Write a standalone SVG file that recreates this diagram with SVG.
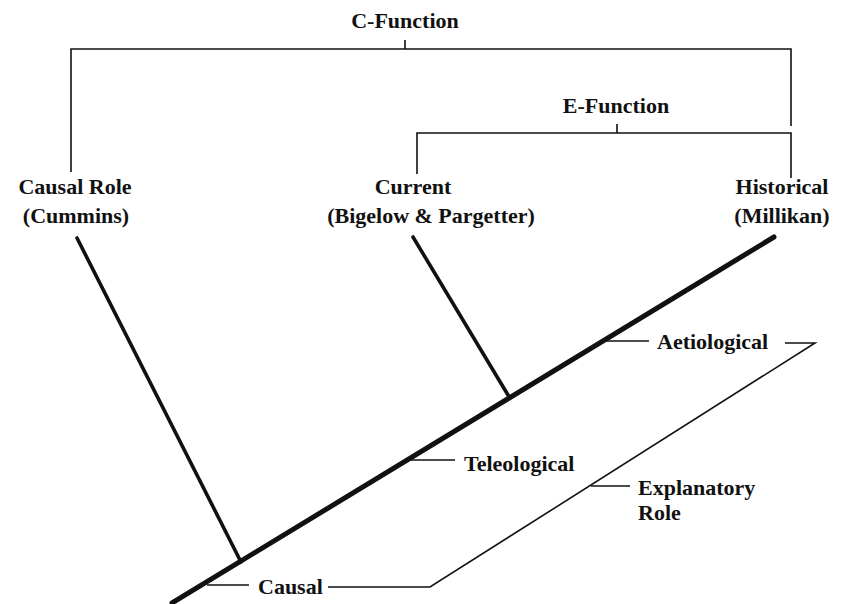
<svg xmlns="http://www.w3.org/2000/svg" width="844" height="604" viewBox="0 0 844 604">
<style>
  text { font-family: "Liberation Serif", "Times New Roman", serif; font-weight: bold; font-size: 22px; fill: #111; }
  .mid { text-anchor: middle; }
  .thin { stroke: #111; stroke-width: 1.6; fill: none; }
  .branch { stroke: #111; stroke-width: 3.6; fill: none; stroke-linecap: round; }
  .trunk { stroke: #111; stroke-width: 5; fill: none; stroke-linecap: round; }
</style>
<rect width="844" height="604" fill="#fff"/>
<g id="connectors">
  <!-- C-Function bracket -->
  <path class="thin" d="M405 40 V49 M71 172 V49 H791 V126"/>
  <!-- E-Function bracket -->
  <path class="thin" d="M617 124 V133 M417 174 V133 H791 V178"/>
  <!-- tree -->
  <line class="trunk" x1="172" y1="603" x2="774" y2="237"/>
  <line class="branch" x1="77" y1="238" x2="241" y2="562"/>
  <line class="branch" x1="413" y1="237" x2="508" y2="395"/>
  <!-- label ticks -->
  <path class="thin" d="M604 341 H649"/>
  <path class="thin" d="M411 460 H455"/>
  <path class="thin" d="M207 585 H249"/>
  <path class="thin" d="M591 486 H630"/>
  <!-- explanatory role path -->
  <path class="thin" d="M785 343 H815 L430 587 H328"/>
</g>
<g id="c-function"><text class="mid" x="405" y="28">C-Function</text></g>
<g id="e-function"><text class="mid" x="616" y="113">E-Function</text></g>
<g id="causal-role"><text class="mid" x="75" y="194">Causal Role</text><text class="mid" x="76" y="223">(Cummins)</text></g>
<g id="current"><text class="mid" x="413" y="194">Current</text><text class="mid" x="431" y="223">(Bigelow &amp; Pargetter)</text></g>
<g id="historical"><text class="mid" x="782" y="194">Historical</text><text class="mid" x="782" y="223">(Millikan)</text></g>
<g id="aetiological"><text x="657" y="349">Aetiological</text></g>
<g id="teleological"><text x="464" y="471">Teleological</text></g>
<g id="explanatory-role"><text x="638" y="495">Explanatory</text><text x="638" y="520">Role</text></g>
<g id="causal"><text x="258" y="594">Causal</text></g>
</svg>
